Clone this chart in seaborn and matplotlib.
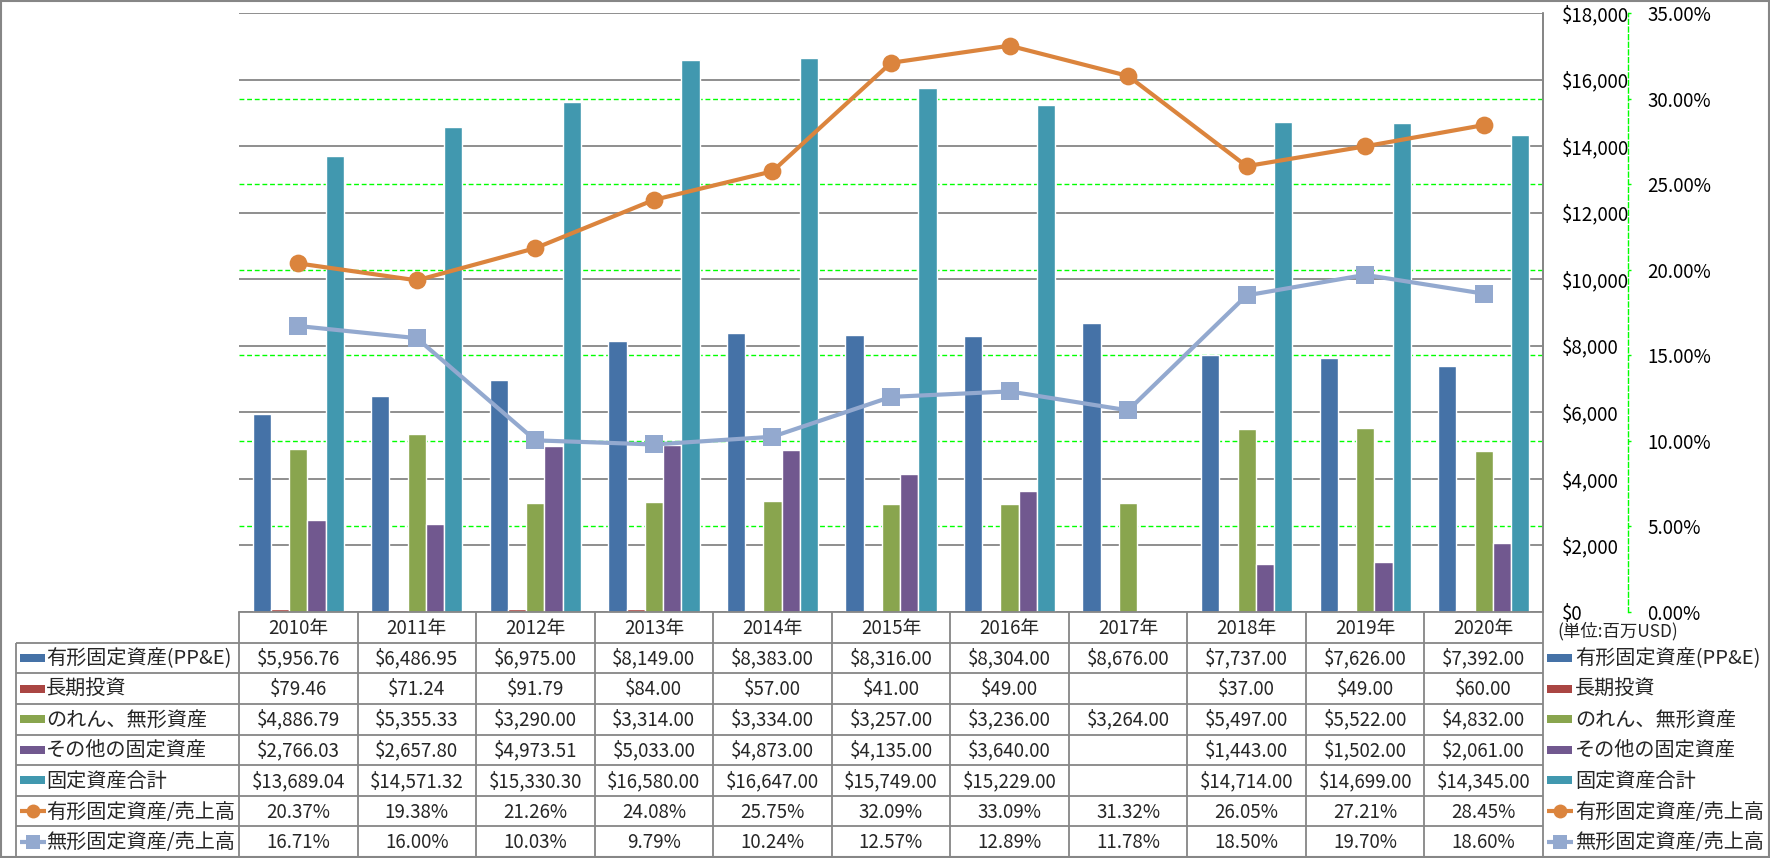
import matplotlib

matplotlib.use("Agg")
import matplotlib.pyplot as plt
import matplotlib.ticker as mtick
import numpy as np
import pandas as pd
import seaborn as sns

# ---- data ----
years = ["2010年", "2011年", "2012年", "2013年", "2014年", "2015年",
         "2016年", "2017年", "2018年", "2019年", "2020年"]
ppe = [5956.76, 6486.95, 6975.00, 8149.00, 8383.00, 8316.00,
       8304.00, 8676.00, 7737.00, 7626.00, 7392.00]
long_inv = [79.46, 71.24, 91.79, 84.00, 57.00, 41.00,
            49.00, np.nan, 37.00, 49.00, 60.00]
goodwill = [4886.79, 5355.33, 3290.00, 3314.00, 3334.00, 3257.00,
            3236.00, 3264.00, 5497.00, 5522.00, 4832.00]
other_assets = [2766.03, 2657.80, 4973.51, 5033.00, 4873.00, 4135.00,
                3640.00, np.nan, 1443.00, 1502.00, 2061.00]
total_assets = [13689.04, 14571.32, 15330.30, 16580.00, 16647.00, 15749.00,
                15229.00, np.nan, 14714.00, 14699.00, 14345.00]
ppe_ratio = [20.37, 19.38, 21.26, 24.08, 25.75, 32.09,
             33.09, 31.32, 26.05, 27.21, 28.45]
intang_ratio = [16.71, 16.00, 10.03, 9.79, 10.24, 12.57,
                12.89, 11.78, 18.50, 19.70, 18.60]

bar_names = ["有形固定資産(PP&E)", "長期投資", "のれん、無形資産", "その他の固定資産", "固定資産合計"]
line_names = ["有形固定資産/売上高", "無形固定資産/売上高"]
bar_values = [ppe, long_inv, goodwill, other_assets, total_assets]
line_values = [ppe_ratio, intang_ratio]

bar_colors = ["#4572A7", "#AA4643", "#89A54E", "#71588F", "#4198AF"]
line_colors = ["#DB843D", "#93A9CF"]
line_markers = ["o", "s"]

# ---- layout (pixels of the 1770x858 canvas) ----
W, H = 1770, 858
PX0, PX1 = 239, 1543
PY0, PY1 = 13, 612
TBL_LEFT = 16
TBL_BOTTOM = 857
GRID_GRAY = "#868686"
LIME = "#00FF00"

sns.set_style("white")
plt.rcParams["font.family"] = ["Noto Sans CJK JP", "DejaVu Sans"]

fig = plt.figure(figsize=(W / 100, H / 100), dpi=100)

# table / frame layer in pixel coordinates
tab = fig.add_axes([0, 0, 1, 1])
tab.set_xlim(0, W)
tab.set_ylim(H, 0)
tab.axis("off")

ax = fig.add_axes([PX0 / W, 1 - PY1 / H, (PX1 - PX0) / W, (PY1 - PY0) / H])
ax.patch.set_alpha(0)

df = pd.DataFrame({
    "year": years * len(bar_names),
    "series": [n for n in bar_names for _ in years],
    "value": [v for vals in bar_values for v in vals],
})
sns.barplot(data=df, x="year", y="value", hue="series", order=years,
            hue_order=bar_names, palette=bar_colors, width=0.77, gap=0,
            saturation=1, errorbar=None, legend=False, ax=ax)

# secondary axis with the ratio lines
ax2 = ax.twinx()
for vals, color, mk in zip(line_values, line_colors, line_markers):
    sns.lineplot(x=np.arange(len(years)), y=vals, ax=ax2, color=color,
                 linewidth=3.0, marker=mk, markersize=12.8,
                 markeredgewidth=0, zorder=3)

usd_max, pct_max = 18000, 35
ax.set_ylim(0, usd_max)
ax.set_xlim(-0.5, len(years) - 0.5)
ax.set_yticks(np.arange(0, usd_max + 1, 2000))
ax.yaxis.set_major_formatter(mtick.StrMethodFormatter("${x:,.0f}"))
ax.yaxis.tick_right()
ax.tick_params(axis="y", length=0, pad=13.5, labelsize=13.5, labelcolor="black")
ax.set_xticks([])
ax.set_xlabel("")
ax.set_ylabel("")
ax.set_axisbelow(True)
ax.grid(axis="y", color=GRID_GRAY, linewidth=1.3)
for t in np.arange(5, pct_max, 5):
    ax.axhline(t / pct_max * usd_max, color=LIME, linewidth=1.0,
               linestyle=(0, (3.5, 2.0)), zorder=0.6)
for side in ["left", "top"]:
    ax.spines[side].set_visible(False)
ax.spines["right"].set_color(GRID_GRAY)
ax.spines["bottom"].set_color(GRID_GRAY)
ax.spines["right"].set_linewidth(1.3)
ax.spines["bottom"].set_linewidth(1.3)

ax2.set_ylim(0, pct_max)
ax2.set_xlim(-0.5, len(years) - 0.5)
ax2.set_yticks(np.arange(0, pct_max + 1, 5))
ax2.yaxis.set_major_formatter(mtick.StrMethodFormatter("{x:.2f}%"))
ax2.set_ylabel("")
for side in ["left", "top", "bottom"]:
    ax2.spines[side].set_visible(False)
ax2.spines["right"].set_position(("outward", 61.5))
ax2.spines["right"].set_color(LIME)
ax2.spines["right"].set_linestyle((0, (3.5, 2.0)))
ax2.spines["right"].set_linewidth(1.0)
ax2.tick_params(axis="y", direction="out", length=2.5, width=1.0,
                color=LIME, pad=11, labelsize=13.5, labelcolor="black")

# ---- data table ----
n_cols = len(years)
col_w = (PX1 - PX0) / n_cols
n_rows = len(bar_names) + len(line_names)
row_h = (TBL_BOTTOM - PY1) / (n_rows + 1)
lw = 1.3

for i in range(n_cols):
    tab.vlines(PX0 + i * col_w, PY1, TBL_BOTTOM, color=GRID_GRAY, linewidth=lw)
    tab.text(PX0 + (i + 0.5) * col_w, PY1 + row_h / 2 + 1, years[i],
             ha="center", va="center", fontsize=13.5)
tab.vlines(PX1, PY0, TBL_BOTTOM, color=GRID_GRAY, linewidth=lw)
tab.vlines(TBL_LEFT, PY1 + row_h, TBL_BOTTOM, color=GRID_GRAY, linewidth=lw)
for k in range(1, n_rows + 1):
    tab.hlines(PY1 + k * row_h, TBL_LEFT, PX1, color=GRID_GRAY, linewidth=lw)

row_names = bar_names + line_names
row_values = bar_values + line_values
for r, (name, vals) in enumerate(zip(row_names, row_values)):
    yc = PY1 + (r + 1.5) * row_h
    for i, v in enumerate(vals):
        if np.isnan(v):
            continue
        txt = f"${v:,.2f}" if r < len(bar_names) else f"{v:.2f}%"
        tab.text(PX0 + (i + 0.5) * col_w, yc + 1, txt,
                 ha="center", va="center", fontsize=13.5)
    # legend keys: left of the table and right of the table
    for kx, tx in [(20, 46), (1547, 1575)]:
        if r < len(bar_names):
            tab.add_patch(plt.Rectangle((kx, yc - 4), 25, 8,
                                        color=bar_colors[r], linewidth=0))
        else:
            j = r - len(bar_names)
            tab.plot([kx, kx + 26], [yc, yc], color=line_colors[j],
                     linewidth=3.0, solid_capstyle="butt")
            tab.plot([kx + 13], [yc], marker=line_markers[j],
                     color=line_colors[j], markersize=10, markeredgewidth=0)
        tab.text(tx, yc + 1, name, ha="left", va="center", fontsize=14.5)

tab.text(1557, PY1 + row_h / 2 + 4, "(単位:百万USD)", ha="left", va="center",
         fontsize=12.5)

# outer chart frame
tab.add_patch(plt.Rectangle((1, 1), W - 2.5, H - 2.5, fill=False,
                            edgecolor=GRID_GRAY, linewidth=1.5))

fig.savefig("out.png", dpi=100)
plt.close(fig)
